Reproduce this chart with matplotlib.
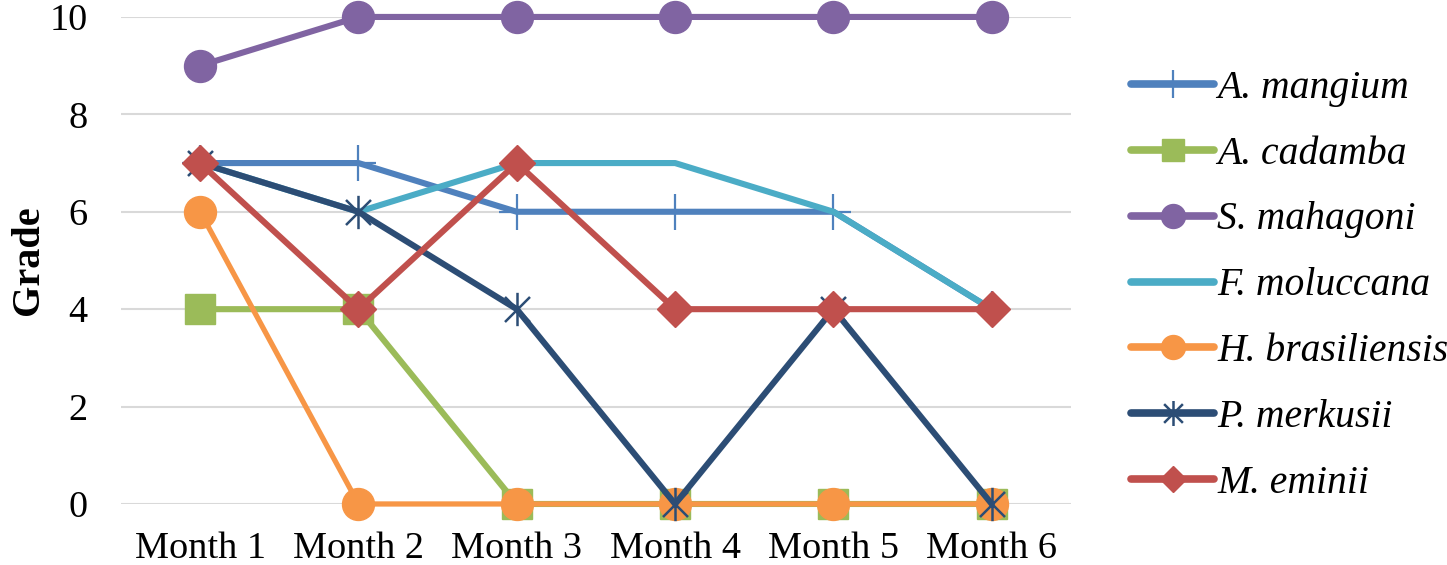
import matplotlib
matplotlib.use("Agg")
import matplotlib.pyplot as plt
from matplotlib.path import Path
import numpy as np

months = ["Month 1", "Month 2", "Month 3", "Month 4", "Month 5", "Month 6"]
a_mangium = [7, 7, 6, 6, 6, 4]
a_cadamba = [4, 4, 0, 0, 0, 0]
s_mahagoni = [9, 10, 10, 10, 10, 10]
f_moluccana = [7, 6, 7, 7, 6, 4]
h_brasiliensis = [6, 0, 0, 0, 0, 0]
p_merkusii = [7, 6, 4, 0, 4, 0]
m_eminii = [7, 4, 7, 4, 4, 4]
names = ["A. mangium", "A. cadamba", "S. mahagoni", "F. moluccana",
         "H. brasiliensis", "P. merkusii", "M. eminii"]

star = Path([(0, -1), (0, 1), (-0.75, -0.75), (0.75, 0.75), (-0.75, 0.75), (0.75, -0.75)],
            [Path.MOVETO, Path.LINETO, Path.MOVETO, Path.LINETO, Path.MOVETO, Path.LINETO])

series = [
    (a_mangium, "#4F81BD", "+", 26, 1.6, 4.4),
    (a_cadamba, "#9BBB59", "s", 22, 1.0, 4.4),
    (s_mahagoni, "#8064A2", "o", 23, 1.0, 4.4),
    (f_moluccana, "#4BACC6", None, 0, 1.0, 4.4),
    (h_brasiliensis, "#F79646", "o", 23, 1.0, 3.8),
    (p_merkusii, "#2C4D75", star, 24, 1.8, 4.4),
    (m_eminii, "#C0504D", "D", 18, 1.0, 4.4),
]

fig = plt.figure(figsize=(14.47, 5.65), dpi=100)
ax = fig.add_axes([0.0836, 0.108, 0.6565, 0.862])
x = np.arange(len(months))
for (vals, col, mk, ms, mew, lw), name in zip(series, names):
    ax.plot(x, vals, color=col, lw=lw, marker=mk, markersize=ms,
            markeredgewidth=mew, markeredgecolor=col, markerfacecolor=col,
            label=name, solid_capstyle="round", solid_joinstyle="round",
            clip_on=False)

ax.set_xlim(-0.5, len(months) - 0.5)
ax.set_ylim(0, 10)
ax.set_yticks(np.arange(0, 11, 2))
ax.set_xticks(x)
ax.set_xticklabels(months)
ax.yaxis.grid(True, color="#D9D9D9", lw=1.5)
ax.set_axisbelow(True)
for s in ax.spines.values():
    s.set_visible(False)
ax.tick_params(axis="y", length=0, labelsize=27.5, pad=24)
ax.tick_params(axis="x", length=0, labelsize=27.5, pad=20)
for lab in ax.get_xticklabels() + ax.get_yticklabels():
    lab.set_fontfamily("Liberation Serif")
ax.set_ylabel("Grade", fontsize=29, fontweight="bold", family="Liberation Serif", labelpad=2)

leg = fig.legend(loc="center left", bbox_to_anchor=(0.757, 0.494), frameon=False,
                 prop={"family": "Liberation Serif", "style": "italic", "size": 28.5},
                 markerscale=0.75, handlelength=2.1, handletextpad=0.08, labelspacing=0.73)
for h in leg.get_lines():
    h.set_linewidth(5.5)

fig.savefig("out.png", dpi=100)
